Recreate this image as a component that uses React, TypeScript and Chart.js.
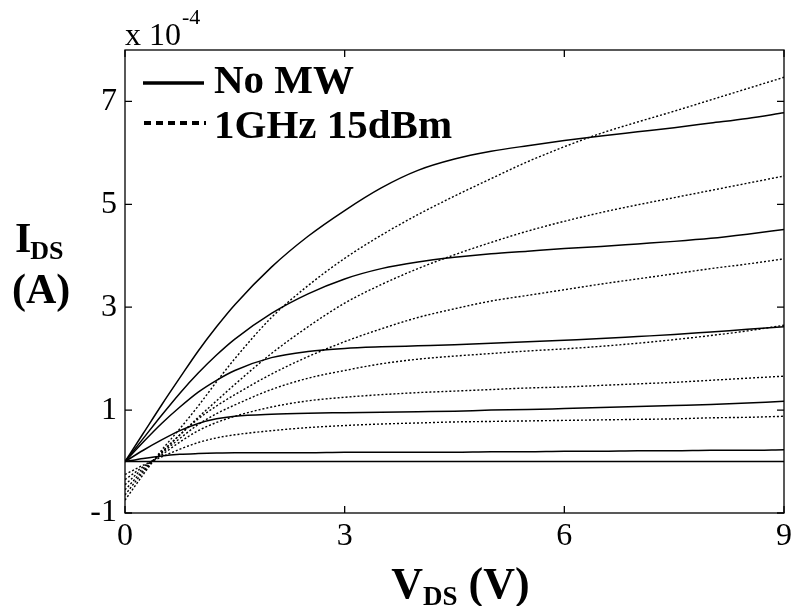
import React, { useEffect, useRef } from "react";
import { Chart, registerables } from "chart.js";
Chart.register(...registerables);

// V_DS (V)
const VDS = [0, 0.25, 0.5, 0.75, 1, 1.25, 1.5, 2, 2.5, 3, 3.5, 4, 4.5, 5, 5.5, 6, 6.5, 7, 7.5, 8, 8.5, 9];

// I_DS (x 1e-4 A), no microwave (solid)
const NO_MW_A = [0, 0, 0, 0, 0, 0, 0, 0, 0, 0, 0, 0, 0, 0, 0, 0, 0, 0, 0, 0, 0, 0];
const NO_MW_B = [0, 0.06, 0.11, 0.14, 0.155, 0.165, 0.17, 0.17, 0.17, 0.18, 0.18, 0.18, 0.18, 0.19, 0.19, 0.2, 0.2, 0.21, 0.21, 0.22, 0.22, 0.23];
const NO_MW_C = [0, 0.22, 0.42, 0.6, 0.74, 0.83, 0.88, 0.92, 0.94, 0.95, 0.96, 0.97, 0.98, 1.0, 1.01, 1.03, 1.05, 1.07, 1.09, 1.11, 1.14, 1.17];
const NO_MW_D = [0, 0.38, 0.74, 1.06, 1.35, 1.58, 1.77, 2.02, 2.14, 2.2, 2.23, 2.25, 2.27, 2.3, 2.33, 2.36, 2.39, 2.43, 2.47, 2.52, 2.57, 2.62];
const NO_MW_E = [0, 0.45, 0.9, 1.33, 1.72, 2.07, 2.38, 2.88, 3.26, 3.55, 3.75, 3.88, 3.97, 4.04, 4.09, 4.14, 4.18, 4.23, 4.28, 4.34, 4.42, 4.51];
const NO_MW_F = [0, 0.55, 1.1, 1.63, 2.15, 2.62, 3.05, 3.78, 4.38, 4.88, 5.32, 5.66, 5.88, 6.03, 6.14, 6.24, 6.33, 6.41, 6.49, 6.58, 6.67, 6.78];

// I_DS (x 1e-4 A), 1 GHz 15 dBm (dotted)
const MW_A = [-0.25, -0.07, 0.09, 0.24, 0.37, 0.46, 0.52, 0.6, 0.66, 0.7, 0.73, 0.75, 0.77, 0.78, 0.79, 0.8, 0.81, 0.82, 0.83, 0.85, 0.86, 0.88];
const MW_B = [-0.35, -0.1, 0.13, 0.38, 0.6, 0.76, 0.88, 1.06, 1.18, 1.25, 1.3, 1.34, 1.37, 1.4, 1.43, 1.45, 1.48, 1.51, 1.54, 1.58, 1.62, 1.66];
const MW_C = [-0.45, -0.13, 0.16, 0.45, 0.72, 0.93, 1.1, 1.4, 1.62, 1.77, 1.9, 1.99, 2.05, 2.1, 2.15, 2.19, 2.24, 2.3, 2.37, 2.45, 2.54, 2.65];
const MW_D = [-0.55, -0.17, 0.18, 0.52, 0.83, 1.08, 1.3, 1.7, 2.04, 2.33, 2.58, 2.8, 2.97, 3.12, 3.23, 3.34, 3.45, 3.55, 3.65, 3.75, 3.84, 3.94];
const MW_E = [-0.65, -0.2, 0.18, 0.52, 0.86, 1.18, 1.5, 2.1, 2.62, 3.08, 3.44, 3.75, 4.02, 4.26, 4.48, 4.67, 4.84, 4.99, 5.13, 5.27, 5.41, 5.55];
const MW_F = [-0.75, -0.25, 0.22, 0.64, 1.08, 1.55, 2.0, 2.8, 3.42, 3.95, 4.4, 4.8, 5.16, 5.5, 5.83, 6.12, 6.38, 6.6, 6.81, 7.03, 7.25, 7.47];

const NO_MW_SERIES = [NO_MW_A, NO_MW_B, NO_MW_C, NO_MW_D, NO_MW_E, NO_MW_F];
const MW_SERIES = [MW_A, MW_B, MW_C, MW_D, MW_E, MW_F];

const X_TICKS = [0, 3, 6, 9];
const Y_TICKS = [-1, 1, 3, 5, 7];
const LEGEND_LABELS = ["No MW", "1GHz 15dBm"];

const SERIF = '"Liberation Serif", "Times New Roman", serif';

export default function App() {
  const ref = useRef<HTMLCanvasElement>(null);

  useEffect(() => {
    if (!ref.current) return;
    const toPts = (ys: number[]) => VDS.map((x, i) => ({ x, y: ys[i] }));

    const datasets: any[] = [];
    NO_MW_SERIES.forEach((s, i) =>
      datasets.push({
        label: i === 0 ? LEGEND_LABELS[0] : "",
        data: toPts(s),
        borderColor: "#000",
        borderWidth: 1.5,
        pointRadius: 0,
        cubicInterpolationMode: "monotone",
        fill: false,
      })
    );
    MW_SERIES.forEach((s, i) =>
      datasets.push({
        label: i === 0 ? LEGEND_LABELS[1] : "",
        data: toPts(s),
        borderColor: "#000",
        borderWidth: 1.4,
        borderDash: [2, 2],
        pointRadius: 0,
        cubicInterpolationMode: "monotone",
        fill: false,
      })
    );

    const framePlugin = {
      id: "frame",
      afterDatasetsDraw(chart: any) {
        const { ctx, chartArea, scales } = chart;
        const { left, right, top, bottom } = chartArea;
        const xs = scales.x;
        const ys = scales.y;
        ctx.save();
        ctx.strokeStyle = "#000";
        ctx.lineWidth = 1.3;
        ctx.setLineDash([]);
        ctx.strokeRect(left, top, right - left, bottom - top);
        const L = 7;
        ctx.beginPath();
        X_TICKS.forEach((v) => {
          const px = xs.getPixelForValue(v);
          ctx.moveTo(px, bottom);
          ctx.lineTo(px, bottom - L);
          ctx.moveTo(px, top);
          ctx.lineTo(px, top + L);
        });
        Y_TICKS.forEach((v) => {
          const py = ys.getPixelForValue(v);
          ctx.moveTo(left, py);
          ctx.lineTo(left + L, py);
          ctx.moveTo(right, py);
          ctx.lineTo(right - L, py);
        });
        ctx.stroke();

        ctx.fillStyle = "#000";
        ctx.textAlign = "left";
        ctx.textBaseline = "alphabetic";

        // exponent label
        ctx.font = `32px ${SERIF}`;
        ctx.fillText("x 10", left, 45);
        const w10 = ctx.measureText("x 10").width;
        ctx.font = `22px ${SERIF}`;
        ctx.fillText("-4", left + w10 + 1, 24);

        // x title: V_DS (V)
        const bigX = `bold 44px ${SERIF}`;
        const subX = `bold 27px ${SERIF}`;
        ctx.font = bigX;
        const wV = ctx.measureText("V").width;
        const wP = ctx.measureText(" (V)").width;
        ctx.font = subX;
        const wDS = ctx.measureText("DS").width;
        const total = wV + wDS + wP;
        const cx = (left + right) / 2 - total / 2 + 6;
        const by = 598;
        ctx.font = bigX;
        ctx.fillText("V", cx, by);
        ctx.font = subX;
        ctx.fillText("DS", cx + wV, by + 7);
        ctx.font = bigX;
        ctx.fillText(" (V)", cx + wV + wDS, by);

        // y title: I_DS (A)
        const big = `bold 42px ${SERIF}`;
        const sub = `bold 26px ${SERIF}`;
        ctx.font = big;
        ctx.fillText("I", 15, 252);
        const wI = ctx.measureText("I").width;
        ctx.font = sub;
        ctx.fillText("DS", 15 + wI - 1, 259);
        ctx.font = big;
        ctx.fillText("(A)", 12, 303);

        // legend
        ctx.lineWidth = 3.5;
        ctx.beginPath();
        ctx.moveTo(143, 83);
        ctx.lineTo(204, 83);
        ctx.stroke();
        ctx.setLineDash([7, 5]);
        ctx.lineWidth = 4;
        ctx.beginPath();
        ctx.moveTo(144, 123);
        ctx.lineTo(206, 123);
        ctx.stroke();
        ctx.setLineDash([]);
        ctx.font = `bold 41px ${SERIF}`;
        ctx.fillText(LEGEND_LABELS[0], 214, 93);
        ctx.fillText(LEGEND_LABELS[1], 214, 138);
        ctx.restore();
      },
    };

    const chart = new Chart(ref.current, {
      type: "line",
      data: { datasets },
      options: {
        animation: false,
        responsive: false,
        maintainAspectRatio: false,
        layout: { padding: { left: 0, right: 9, top: 50, bottom: 0 } },
        plugins: { legend: { display: false }, tooltip: { enabled: false } },
        scales: {
          x: {
            type: "linear",
            min: 0,
            max: 9,
            grid: { display: false, drawTicks: false },
            border: { display: false },
            afterBuildTicks: (s: any) => {
              s.ticks = X_TICKS.map((v) => ({ value: v }));
            },
            afterFit: (s: any) => {
              s.height = 93;
            },
            ticks: {
              color: "#000",
              font: { family: SERIF, size: 32 },
              padding: 4,
              maxRotation: 0,
              autoSkip: false,
            },
          },
          y: {
            type: "linear",
            min: -1,
            max: 8,
            grid: { display: false, drawTicks: false },
            border: { display: false },
            afterBuildTicks: (s: any) => {
              s.ticks = Y_TICKS.map((v) => ({ value: v }));
            },
            afterFit: (s: any) => {
              s.width = 125;
            },
            ticks: {
              color: "#000",
              font: { family: SERIF, size: 32 },
              padding: 8,
              autoSkip: false,
            },
          },
        },
      },
      plugins: [framePlugin],
    });
    return () => chart.destroy();
  }, []);

  return (
    <div style={{ position: "fixed", left: 0, top: 0, width: 796, height: 606, background: "#fff" }}>
      <canvas ref={ref} width={796} height={606} style={{ width: 796, height: 606 }} />
    </div>
  );
}
